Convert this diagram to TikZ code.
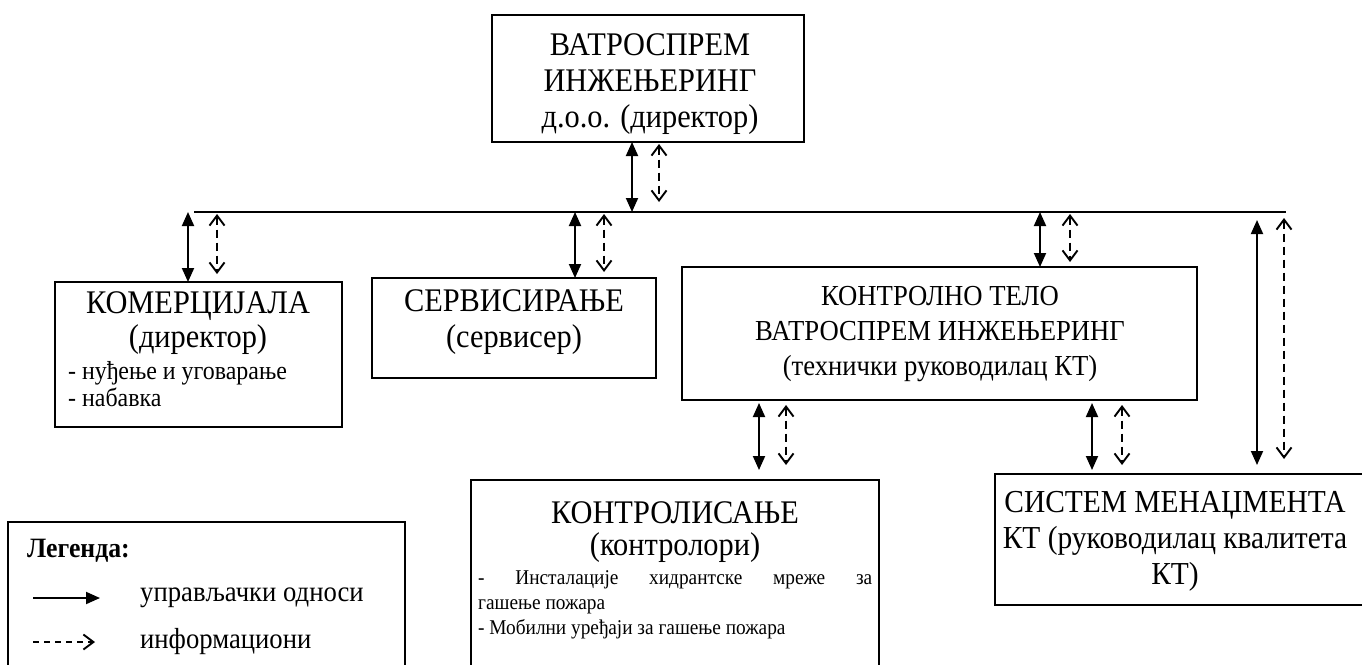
\documentclass[tikz,border=0pt]{standalone}
\usepackage{fontspec}
\setmainfont{Liberation Serif}[FakeStretch=0.92]
\usetikzlibrary{arrows.meta}
\tikzset{
  box/.style={draw, line width=1.4pt, anchor=north west, inner sep=0pt, outer sep=0pt},
  sarr/.style={line width=1.9pt, {Triangle[length=14pt,width=12pt]}-{Triangle[length=14pt,width=12pt]}},
  sarrone/.style={line width=1.9pt, -{Triangle[length=14pt,width=12pt]}},
  darr/.style={line width=1.9pt, dash pattern=on 8pt off 5pt, {Straight Barb[length=10pt,width=15pt]}-{Straight Barb[length=10pt,width=15pt]}},
  darrone/.style={line width=1.9pt, dash pattern=on 8pt off 5pt, -{Straight Barb[length=10pt,width=15pt]}},
  big/.style={font=\fontsize{33}{36}\selectfont, align=center, inner sep=0pt},
  mid/.style={font=\fontsize{29}{35}\selectfont, align=center, inner sep=0pt},
  small/.style={font=\fontsize{21}{25}\selectfont, align=left, inner sep=0pt, anchor=north west},
  legtxt/.style={font=\fontsize{29}{30}\selectfont, anchor=west, inner sep=0pt},
}
\begin{document}
\begin{tikzpicture}[x=1pt,y=-1pt]
\useasboundingbox (0,0) rectangle (1362,664);
% boxes
\node[box, minimum width=312pt, minimum height=127pt] (top) at (492,15) {};
\node[box, minimum width=287pt, minimum height=145pt] (kom) at (55,282) {};
\node[box, minimum width=284pt, minimum height=100pt] (ser) at (372,278) {};
\node[box, minimum width=515pt, minimum height=133pt] (kt) at (682,267) {};
\node[box, minimum width=408pt, minimum height=230pt] (kon) at (471,480) {};
\node[box, minimum width=380pt, minimum height=131pt] (sys) at (995,474) {};
\node[box, minimum width=397pt, minimum height=200pt] (leg) at (8,522) {};
% texts
\node[big] (ttop) at (650,84) {ВАТРОСПРЕМ\\ИНЖЕЊЕРИНГ\\д.о.о. (директор)};
\node[big, font=\fontsize{33}{34}\selectfont] (tkom) at (198,323) {КОМЕРЦИЈАЛА\\(директор)};
\node[small, font=\fontsize{26}{27}\selectfont] (lkom) at (68,361) {- нуђење и уговарање\\- набавка};
\node[big] (tser) at (514,322) {СЕРВИСИРАЊЕ\\(сервисер)};
\node[mid] (tkt) at (940,334) {КОНТРОЛНО ТЕЛО\\ВАТРОСПРЕМ ИНЖЕЊЕРИНГ\\(технички руководилац КТ)};
\node[big, font=\fontsize{33}{32}\selectfont] (tkon) at (675,532) {КОНТРОЛИСАЊЕ\\(контролори)};
\node[small] (lkon) at (478,570) {\hbox to 394pt{-\hfill Инсталације\hfill хидрантске\hfill мреже\hfill за}\\гашење пожара\\- Мобилни уређаји за гашење пожара};
\node[big, font=\fontsize{32}{36}\selectfont] (tsys) at (1175,541) {СИСТЕМ МЕНАЏМЕНТА\\КТ (руководилац квалитета\\КТ)};
\node[font=\bfseries\fontsize{28}{28}\selectfont, anchor=west, inner sep=0pt] (tleg) at (27,551) {Легенда:};
\node[legtxt] (tl1) at (140,598) {управљачки односи};
\node[legtxt] (tl2) at (140,642) {информациони};
% bus
\coordinate (busL) at (194,212);
\coordinate (busR) at (1286,212);
\draw[line width=1.5pt] (busL) -- (busR);
% arrows top
\draw[sarr] ([xshift=140pt]top.south west) -- ([xshift=140pt]top.south west |- busL);
\draw[darr, shorten <=2pt, shorten >=10pt] ([xshift=167pt]top.south west) -- ([xshift=167pt]top.south west |- busL);
% kom
\draw[sarr] ([xshift=133pt]kom.north west |- busL) -- ([xshift=133pt]kom.north west);
\draw[darr, shorten <=2pt, shorten >=8pt] ([xshift=162pt]kom.north west |- busL) -- ([xshift=162pt]kom.north west);
% ser
\draw[sarr] ([xshift=203pt]ser.north west |- busL) -- ([xshift=203pt]ser.north west);
\draw[darr, shorten <=2pt, shorten >=6pt] ([xshift=232pt]ser.north west |- busL) -- ([xshift=232pt]ser.north west);
% kt
\draw[sarr] ([xshift=358pt]kt.north west |- busL) -- ([xshift=358pt]kt.north west);
\draw[darr, shorten <=2pt, shorten >=5pt] ([xshift=388pt]kt.north west |- busL) -- ([xshift=388pt]kt.north west);
% long to sys
\draw[sarr, shorten <=8pt, shorten >=9pt] ([xshift=262pt]sys.north west |- busL) -- ([xshift=262pt]sys.north west);
\draw[darr, shorten <=6pt, shorten >=15pt] ([xshift=289pt]sys.north west |- busL) -- ([xshift=289pt]sys.north west);
% kt to kon
\draw[sarr, shorten <=3pt, shorten >=10pt] ([xshift=77pt]kt.south west) -- ([xshift=77pt]kt.south west |- kon.north);
\draw[darr, shorten <=5pt, shorten >=15pt] ([xshift=104pt]kt.south west) -- ([xshift=104pt]kt.south west |- kon.north);
% kt to sys
\draw[sarr, shorten <=3pt, shorten >=4pt] ([xshift=410pt]kt.south west) -- ([xshift=410pt]kt.south west |- sys.north);
\draw[darr, shorten <=5pt, shorten >=9pt] ([xshift=440pt]kt.south west) -- ([xshift=440pt]kt.south west |- sys.north);
% legend arrows
\coordinate (l1a) at (33,598);
\coordinate (l1b) at (100,598);
\coordinate (l2a) at (33,642);
\coordinate (l2b) at (95,642);
\draw[sarrone] (l1a) -- (l1b);
\draw[darrone, dash pattern=on 6pt off 5pt] (l2a) -- (l2b);
\end{tikzpicture}
\end{document}
